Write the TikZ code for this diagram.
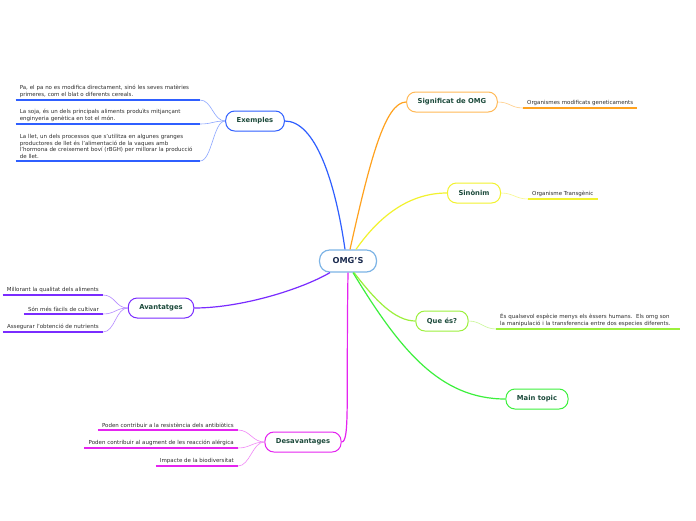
\documentclass[tikz,border=0pt]{standalone}
\usepackage{fontspec}
\setmainfont{DejaVu Sans}
\usepackage{tikz}
\definecolor{omgblue}{HTML}{7DB4E6}
\definecolor{omgnavy}{HTML}{1B2B4F}
\definecolor{topicgreen}{HTML}{1D4B3C}
\definecolor{leafgray}{HTML}{2E2E2E}
\definecolor{exblue}{HTML}{2F5FFF}
\definecolor{sigorange}{HTML}{FFA21F}
\definecolor{sinyellow}{HTML}{F2F22E}
\definecolor{quegreen}{HTML}{9CF03C}
\definecolor{maingreen}{HTML}{3CF03C}
\definecolor{avpurple}{HTML}{7A2CFF}
\definecolor{desmagenta}{HTML}{E524F0}

\begin{document}
\begin{tikzpicture}[
  x=1pt, y=-1pt,
  root/.style={rectangle, rounded corners=10pt, draw=omgblue, fill=white, line width=1.2pt,
               minimum height=22pt, inner xsep=13pt, font=\fontsize{8.2}{9}\selectfont\bfseries, text=omgnavy},
  topic/.style={rectangle, rounded corners=9pt, draw=#1, fill=white, line width=1pt,
                minimum height=20pt, inner xsep=11pt, font=\fontsize{6.8}{8}\selectfont\bfseries, text=topicgreen},
  leaf/.style={inner xsep=4pt, inner ysep=2.5pt, font=\fontsize{5.5}{6.6}\selectfont, text=leafgray},
  note/.style={leaf, text width=176pt, align=left},
  branch/.style={line width=1.2pt, #1},
  twig/.style={line width=0.6pt, #1!55},
  uline/.style={line width=1.6pt, #1}
]
\fill[white] (0,0) rectangle (696,520);
\useasboundingbox (0,0) rectangle (696,520);

\node[root] (omg) at (348,261) {OMG'S};
\node[topic=exblue] (exm) at (255,121) {Exemples};
\node[topic=sigorange!75] (sig) at (452,102) {Significat de OMG};
\node[topic=sinyellow] (sin) at (474,193) {Sinònim};
\node[topic=quegreen] (que) at (442,321) {Que és?};
\node[topic=maingreen] (mai) at (537,399) {Main topic};
\node[topic=avpurple] (ava) at (161,308) {Avantatges};
\node[topic=desmagenta] (des) at (303,442) {Desavantages};

\node[note, anchor=south east] (ex1) at (200,100) {Pa, el pa no es modifica directament, sinó les seves matèries\\primeres, com el blat o diferents cereals.};
\node[note, anchor=south east] (ex2) at (200,124) {La soja, és un dels principals aliments produïts mitjançant\\enginyeria genètica en tot el món.};
\node[note, anchor=south east] (ex3) at (200,161) {La llet, un dels processos que s'utilitza en algunes granges\\productores de llet és l'alimentació de la vaques amb\\l'hormona de creixement boví (rBGH) per millorar la producció\\de llet.};
\node[leaf, anchor=south west] (sg1) at (523,108) {Organismes modificats geneticaments};
\node[leaf, anchor=south west] (sn1) at (528,199) {Organisme Transgènic};
\node[note, anchor=south west] (qu1) at (496,329) {És qualsevol espècie menys els èssers humans.~~Els omg son\\la manipulació i la transferencia entre dos especies diferents.};
\node[leaf, anchor=south east] (av1) at (103,295) {Millorant la qualitat dels aliments};
\node[leaf, anchor=south east] (av2) at (103,314) {Són més fàcils de cultivar};
\node[leaf, anchor=south east] (av3) at (103,332) {Assegurar l'obtenció de nutrients};
\node[leaf, anchor=south east] (de1) at (238,430) {Poden contribuir a la resistència dels antibiòtics};
\node[leaf, anchor=south east] (de2) at (238,448) {Poden contribuir al augment de les reacción alérgica};
\node[leaf, anchor=south east] (de3) at (238,466) {Impacte de la biodiversitat};

\draw[branch=exblue] ([xshift=-3pt]omg.north) .. controls (335,180) and (315,121) .. (exm.east);
\draw[branch=sigorange] ([xshift=2pt]omg.north) .. controls (370,160) and (385,102) .. (sig.west);
\draw[branch=sinyellow] ([xshift=8pt]omg.north) .. controls (380,215) and (410,193) .. (sin.west);
\draw[branch=quegreen] ([xshift=6pt]omg.south) .. controls (375,300) and (395,321) .. (que.west);
\draw[branch=maingreen] ([xshift=5pt]omg.south) .. controls (400,350) and (440,399) .. (mai.west);
\draw[branch=avpurple] ([xshift=-18pt]omg.south) .. controls (300,290) and (240,308) .. (ava.east);
\draw[branch=desmagenta] (omg.south) .. controls (346,400) and (350,442) .. (des.east);

\draw[twig=exblue] (exm.west) .. controls +(-12,0) and +(12,0) .. (ex1.south east);
\draw[twig=exblue] (exm.west) .. controls +(-12,0) and +(12,0) .. (ex2.south east);
\draw[twig=exblue] (exm.west) .. controls +(-12,0) and +(12,0) .. (ex3.south east);
\draw[twig=sigorange] (sig.east) .. controls +(12,0) and +(-12,0) .. (sg1.south west);
\draw[twig=sinyellow] (sin.east) .. controls +(12,0) and +(-12,0) .. (sn1.south west);
\draw[twig=quegreen] (que.east) .. controls +(12,0) and +(-12,0) .. (qu1.south west);
\draw[twig=avpurple] (ava.west) .. controls +(-12,0) and +(12,0) .. (av1.south east);
\draw[twig=avpurple] (ava.west) .. controls +(-12,0) and +(12,0) .. (av2.south east);
\draw[twig=avpurple] (ava.west) .. controls +(-12,0) and +(12,0) .. (av3.south east);
\draw[twig=desmagenta] (des.west) .. controls +(-12,0) and +(12,0) .. (de1.south east);
\draw[twig=desmagenta] (des.west) .. controls +(-12,0) and +(12,0) .. (de2.south east);
\draw[twig=desmagenta] (des.west) .. controls +(-12,0) and +(12,0) .. (de3.south east);

\draw[uline=exblue] (ex1.south west) -- (ex1.south east) (ex2.south west) -- (ex2.south east) (ex3.south west) -- (ex3.south east);
\draw[uline=sigorange] (sg1.south west) -- (sg1.south east);
\draw[uline=sinyellow] (sn1.south west) -- (sn1.south east);
\draw[uline=quegreen] (qu1.south west) -- (qu1.south east);
\draw[uline=avpurple] (av1.south west) -- (av1.south east) (av2.south west) -- (av2.south east) (av3.south west) -- (av3.south east);
\draw[uline=desmagenta] (de1.south west) -- (de1.south east) (de2.south west) -- (de2.south east) (de3.south west) -- (de3.south east);
\end{tikzpicture}
\end{document}
